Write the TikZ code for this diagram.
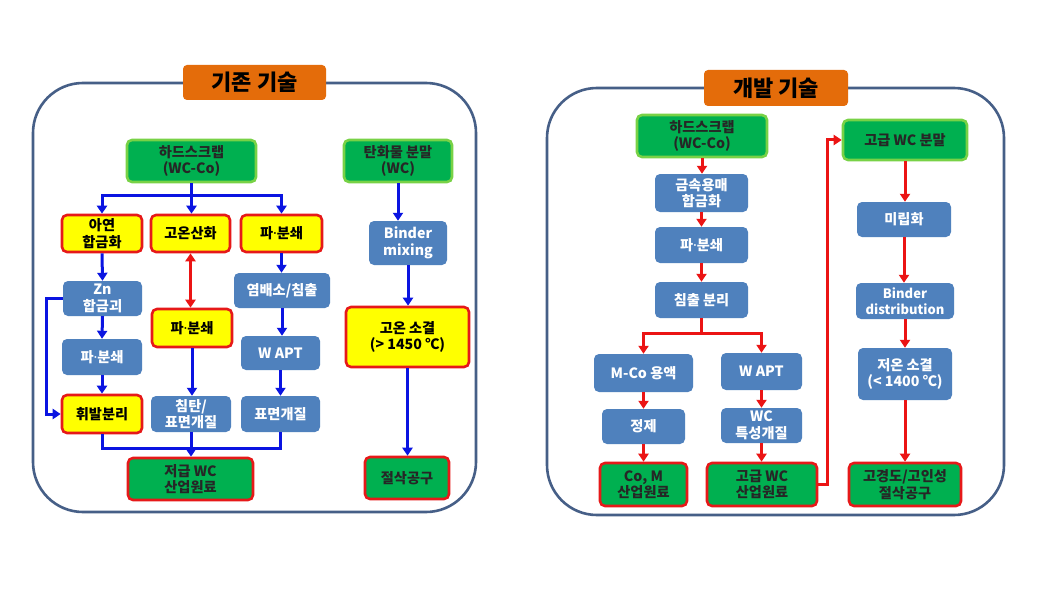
\documentclass[tikz,border=0pt]{standalone}
\usepackage{fontspec}
\setmainfont{Noto Sans CJK KR}
\newfontfamily\nsans{Noto Sans}
\newcommand{\md}{{\nsans\bfseries ·}}
\usetikzlibrary{arrows.meta,calc}
\definecolor{boxblue}{RGB}{79,129,189}
\definecolor{boxgreen}{RGB}{0,176,80}
\definecolor{lgreen}{RGB}{120,210,70}
\definecolor{bred}{RGB}{230,25,25}
\definecolor{byellow}{RGB}{255,255,0}
\definecolor{torange}{RGB}{228,108,10}
\definecolor{panelc}{RGB}{70,95,135}
\definecolor{arrblue}{RGB}{10,20,225}
\definecolor{arrred}{RGB}{235,20,20}
\newcommand{\bx}[7]{\node[#2, minimum width={(#5-#3)*1pt}, minimum height={(#6-#4)*1pt}] (#1) at ({(#3+#5)/2},{(#4+#6)/2}) {#7};}
\tikzset{
  base/.style={rounded corners=5pt, inner sep=0pt, align=center, font=\fontsize{14.2}{16.5}\selectfont\bfseries},
  bluebox/.style={base, fill=boxblue, text=white},
  yelbox/.style={base, fill=byellow, draw=bred, line width=2.6pt, text=black},
  grnbox/.style={base, fill=boxgreen, draw=lgreen, line width=2.6pt, text=black!85},
  grnred/.style={base, fill=boxgreen, draw=bred, line width=2.6pt, text=black!85},
  titlebox/.style={rounded corners=4pt, inner sep=0pt, fill=torange, text=black, font=\fontsize{22}{24}\selectfont\bfseries},
  panel/.style={draw=panelc, line width=2.6pt, rounded corners=50pt},
  bline/.style={draw=arrblue, line width=3pt},
  barr/.style={bline, -{Triangle[width=10pt,length=8pt]}},
  rline/.style={draw=arrred, line width=3pt},
  rarr/.style={rline, -{Triangle[width=10pt,length=8pt]}},
  rarrb/.style={rline, {Triangle[width=10pt,length=8pt]}-{Triangle[width=10pt,length=8pt]}},
}
\begin{document}
\begin{tikzpicture}[x=1pt,y=-1pt]
\useasboundingbox[fill=white] (0,0) rectangle (1049,599);
% ---------- left panel ----------
\draw[panel] (33,83) rectangle (476,512);
\bx{t1}{titlebox}{183}{65}{326}{100}{기존 기술}
\bx{hs1}{grnbox}{127}{140}{256}{182}{하드스크랩\\(WC-Co)}
\bx{thm}{grnbox}{344}{140}{452}{182}{탄화물 분말\\(WC)}
\bx{a1}{yelbox}{62}{215}{142}{252}{아연\\합금화}
\bx{a2}{yelbox}{151}{215}{230}{252}{고온산화}
\bx{a3}{yelbox}{241}{215}{322}{252}{파\md 분쇄}
\bx{bm}{bluebox}{369}{221}{447}{265}{Binder\\mixing}
\bx{zn}{bluebox}{63}{281}{142}{316}{Zn\\합금괴}
\bx{yb}{bluebox}{234}{273}{330}{308}{염배소/침출}
\bx{p2}{yelbox}{152}{309}{232}{347}{파\md 분쇄}
\bx{hs}{yelbox}{346}{307}{469}{367}{고온 소결\\(> 1450 ℃)}
\bx{p1}{bluebox}{62}{339}{142}{375}{파\md 분쇄}
\bx{wa1}{bluebox}{241}{336}{320}{370}{W APT}
\bx{vol}{yelbox}{62}{395}{142}{433}{휘발분리}
\bx{cb}{bluebox}{151}{396}{231}{432}{침탄/\\표면개질}
\bx{sur}{bluebox}{241}{396}{320}{432}{표면개질}
\bx{low}{grnred}{128}{458}{253}{500}{저급 WC\\산업원료}
\bx{cut1}{grnred}{365}{457}{449}{499}{절삭공구}
\coordinate (jL) at (191.5,195);
\coordinate (jB) at (191.5,448);
\draw[bline] (hs1.south) -- (jL);
\draw[barr] (jL) -- (jL |- a2.north);
\draw[barr] (jL) -| (a1.north);
\draw[barr] (jL) -| (a3.north);
\draw[barr] (a1.south) -- (zn.north);
\draw[barr] (zn.south) -- (p1.north);
\draw[barr] (p1.south) -- (vol.north);
\draw[barr] (zn.west) -- ++(-16,0) |- (vol.west);
\draw[rarrb] (a2.south) -- (a2.south |- p2.north);
\draw[barr] (p2.south) -- (p2.south |- cb.north);
\draw[barr] (a3.south) -- (a3.south |- yb.north);
\draw[barr] (yb.south) -- (yb.south |- wa1.north);
\draw[barr] (wa1.south) -- (sur.north);
\draw[bline] (vol.south) |- (jB) -| (sur.south);
\draw[barr] (cb.south) -- (cb.south |- low.north);
\draw[barr] (thm.south) -- (thm.south |- bm.north);
\draw[barr] (bm.south) -- (bm.south |- hs.north);
\draw[barr] (hs.south) -- (hs.south |- cut1.north);
% ---------- right panel ----------
\draw[panel] (547,88) rectangle (1004,515);
\bx{t2}{titlebox}{704}{70}{848}{106}{개발 기술}
\bx{hs2}{grnbox}{637}{115}{767}{157}{하드스크랩\\(WC-Co)}
\bx{ms}{bluebox}{655}{174}{748}{212}{금속용매\\합금화}
\bx{pb}{bluebox}{655}{227}{748}{263}{파\md 분쇄}
\bx{ch}{bluebox}{655}{282}{748}{318}{침출 분리}
\bx{mco}{bluebox}{594}{354}{693}{392}{M-Co 용액}
\bx{wa2}{bluebox}{721}{353}{802}{390}{W APT}
\bx{jj}{bluebox}{602}{409}{685}{444}{정제}
\bx{wcm}{bluebox}{721}{408}{802}{443}{WC\\특성개질}
\bx{com}{grnred}{600}{463}{687}{506}{Co, M\\산업원료}
\bx{hwc}{grnred}{707}{463}{817}{506}{고급 WC\\산업원료}
\bx{hwp}{grnbox}{843}{120}{967}{160}{고급 WC 분말}
\bx{mr}{bluebox}{857}{202}{951}{237}{미립화}
\bx{bd}{bluebox, font=\fontsize{13}{16.5}\selectfont\bfseries}{856}{283}{954}{319}{Binder\\distribution}
\bx{ls}{bluebox}{858}{348}{952}{400}{저온 소결\\(< 1400 ℃)}
\bx{cut2}{grnred}{849}{463}{961}{506}{고경도/고인성\\절삭공구}
\coordinate (jR) at (701.5,333);
\draw[rarr] (hs2.south) -- (hs2.south |- ms.north);
\draw[rarr] (ms.south) -- (pb.north);
\draw[rarr] (pb.south) -- (ch.north);
\draw[rline] (ch.south) -- (jR);
\draw[rarr] (jR) -| (mco.north);
\draw[rarr] (jR) -| (wa2.north);
\draw[rarr] (mco.south) -- (mco.south |- jj.north);
\draw[rarr] (jj.south) -- (jj.south |- com.north);
\draw[rarr] (wa2.south) -- (wcm.north);
\draw[rarr] (wcm.south) -- (wcm.south |- hwc.north);
\draw[rarr] (hwc.east) -- ++(9,0) |- (hwp.west);
\draw[rarr] (hwp.south) -- (hwp.south |- mr.north);
\draw[rarr] (mr.south) -- (mr.south |- bd.north);
\draw[rarr] (bd.south) -- (bd.south |- ls.north);
\draw[rarr] (ls.south) -- (ls.south |- cut2.north);
\end{tikzpicture}
\end{document}
